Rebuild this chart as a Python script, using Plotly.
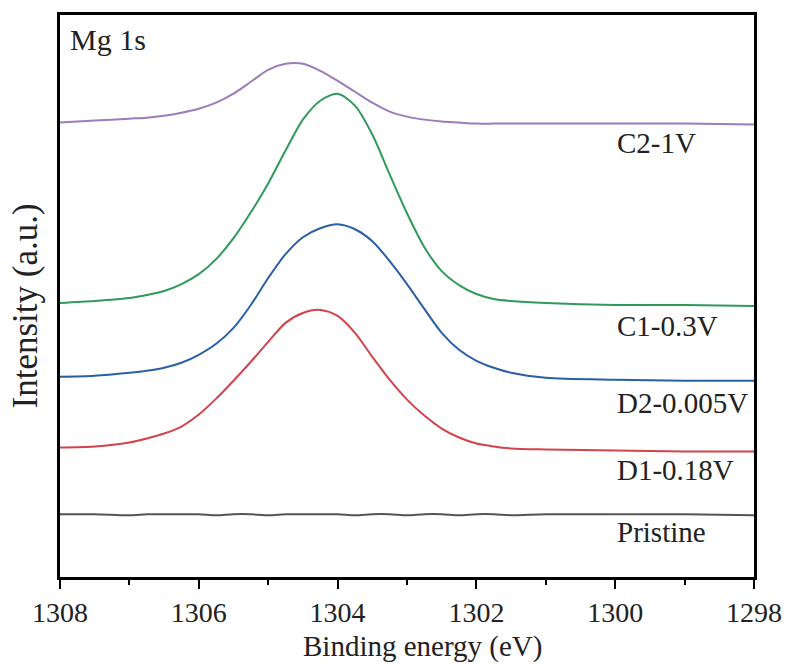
import plotly.graph_objects as go

# Binding energy axis sample positions (eV)
be = [1308.0, 1307.5, 1307.0, 1306.75, 1306.5, 1306.25, 1306.0, 1305.75, 1305.5, 1305.25, 1305.0,
      1304.75, 1304.5, 1304.25, 1304.0, 1303.75, 1303.5, 1303.25, 1303.0, 1302.75, 1302.5,
      1302.25, 1302.0, 1301.75, 1301.5, 1301.0, 1300.0, 1299.0, 1298.0]

# Intensities (a.u., vertically offset as in the figure)
c2_1v = [456, 458, 460, 461, 463, 466, 470, 476, 485, 497, 509, 515, 515, 508, 498, 487, 476, 467,
         462, 459, 457, 456, 455, 455, 455, 455, 455, 455, 454]
c1_03v = [275, 277, 280, 283, 287, 294, 304, 319, 340, 366, 395, 428, 459, 478, 485, 473, 444, 404,
          365, 331, 307, 293, 284, 279, 277, 275, 273, 273, 272]
d2_0005v = [201, 202, 205, 207, 210, 215, 223, 234, 250, 273, 300, 324, 341, 350, 354, 349, 337, 317,
            294, 269, 245, 228, 217, 210, 205, 200, 198, 197, 197]
d1_018v = [130, 131, 135, 139, 144, 151, 163, 179, 197, 216, 236, 255, 265, 268, 262, 245, 221, 198,
           178, 162, 149, 140, 134, 131, 129, 128, 127, 126, 126]
pristine = [63, 63, 62, 63, 63, 63, 63, 62, 63, 63, 62, 63, 63, 63, 63, 62, 63, 63,
            62, 63, 63, 62, 63, 63, 62, 63, 63, 63, 62]

series = [
    ("Pristine", pristine, "#555555"),
    ("D1-0.18V", d1_018v, "#d2434b"),
    ("D2-0.005V", d2_0005v, "#2b5fa5"),
    ("C1-0.3V", c1_03v, "#2f9a5c"),
    ("C2-1V", c2_1v, "#9c7cba"),
]

# label positions (x in eV, y in a.u.)
label_x = 1300.0
label_y = {"C2-1V": 436, "C1-0.3V": 252, "D2-0.005V": 175, "D1-0.18V": 107, "Pristine": 45}

FONT = "Liberation Serif"
TXT = "#222222"

fig = go.Figure()
for name, ys, col in series:
    fig.add_trace(go.Scatter(x=be, y=ys, mode="lines", name=name,
                             line=dict(color=col, width=2, shape="spline", smoothing=0.8),
                             showlegend=False, hoverinfo="skip"))
    fig.add_annotation(x=label_x, y=label_y[name], text=name, showarrow=False,
                       xanchor="left", yanchor="middle",
                       font=dict(family=FONT, size=29, color=TXT))

fig.add_annotation(x=0.012, y=0.99, xref="paper", yref="paper", text="Mg 1s",
                   showarrow=False, xanchor="left", yanchor="top",
                   font=dict(family=FONT, size=30, color=TXT))

# axis titles as text
fig.add_annotation(x=-0.05, y=0.482, xref="paper", yref="paper", text="Intensity (a.u.)",
                   showarrow=False, textangle=-90, xanchor="center", yanchor="middle",
                   font=dict(family=FONT, size=35, color=TXT))
fig.add_annotation(x=0.522, y=-0.154, xref="paper", yref="paper", text="Binding energy (eV)",
                   showarrow=False, xanchor="center", yanchor="bottom", borderpad=0,
                   font=dict(family=FONT, size=29, color=TXT))

fig.update_layout(
    width=794, height=664,
    margin=dict(l=60, r=38, t=13, b=87),
    paper_bgcolor="white", plot_bgcolor="white",
    font=dict(family=FONT, size=29, color=TXT),
)
fig.update_xaxes(
    range=[1308, 1298], tickvals=[1308, 1306, 1304, 1302, 1300, 1298],
    ticks="outside", ticklen=9, tickwidth=2, tickcolor="black",
    minor=dict(ticks="outside", ticklen=5, tickwidth=2, tickcolor="black", dtick=1),
    showline=True, linewidth=2.5, linecolor="black", mirror=True,
    showgrid=False, zeroline=False,
    tickfont=dict(family=FONT, size=28, color=TXT),
)
fig.update_yaxes(
    range=[0, 564], showticklabels=False, ticks="",
    showline=True, linewidth=2.5, linecolor="black", mirror=True,
    showgrid=False, zeroline=False,
)

fig.write_html("out.html")
